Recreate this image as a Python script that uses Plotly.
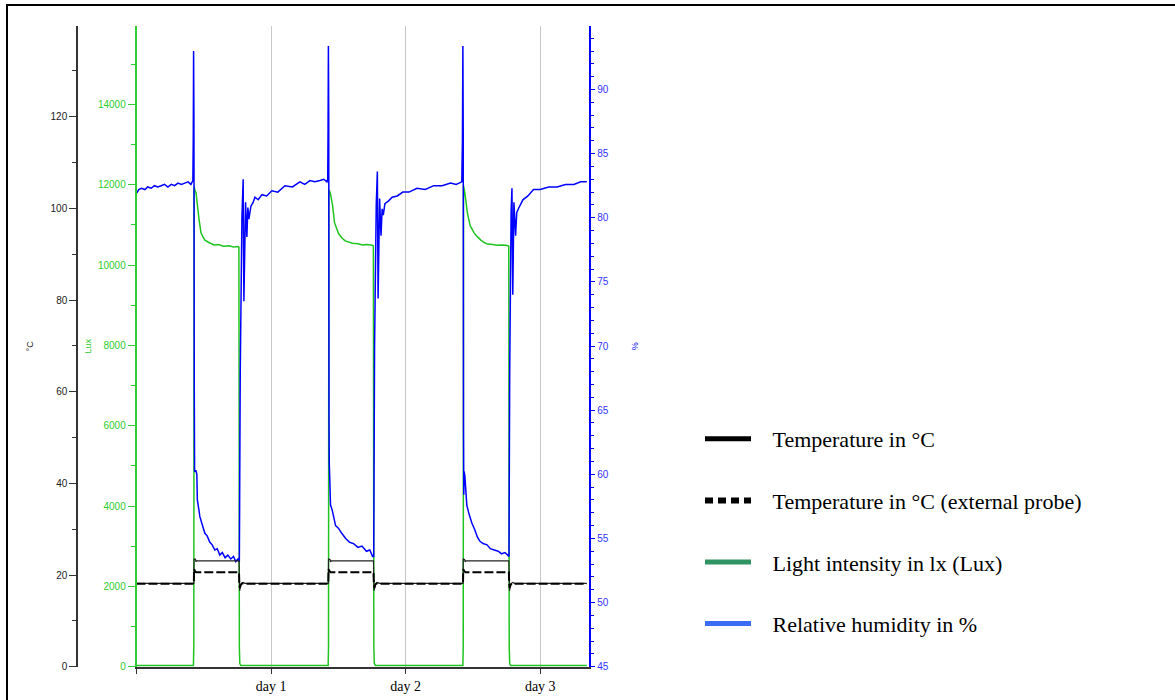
import plotly.graph_objects as go

# ---------------------------------------------------------------------------
# Logger readings over ~80 hours (time in hours since start of recording)
# ---------------------------------------------------------------------------
day_ticks = [0, 24, 48, 72]
day_labels = ["", "day 1", "day 2", "day 3"]

temp_ticks = [0, 20, 40, 60, 80, 100, 120]
lux_ticks = [0, 2000, 4000, 6000, 8000, 10000, 12000, 14000]
hum_ticks = [45, 50, 55, 60, 65, 70, 75, 80, 85, 90]

hum_t = [0.00, 0.15, 0.40, 0.90, 1.50, 2.00, 2.60, 3.20, 3.80, 4.40, 5.00, 5.60,
         6.20, 6.80, 7.40, 8.00, 8.60, 9.20, 9.70, 10.05, 10.12, 10.18, 10.24,
         10.30, 10.36, 10.60, 10.76, 10.85, 11.10, 11.30, 11.70, 12.19, 12.60,
         13.08, 13.50, 13.97, 14.40, 14.86, 15.30, 15.80, 16.29, 16.80, 17.30,
         17.70, 18.08, 18.34, 18.50, 18.80, 19.02, 19.15, 19.45, 19.68, 19.86,
         20.04, 20.40, 20.80, 21.11, 21.70, 22.36, 23.20, 24.15, 25.20, 26.47,
         27.80, 29.14, 30.00, 30.93, 31.80, 32.71, 33.40, 33.96, 34.10, 34.16,
         34.22, 34.28, 34.33, 34.38, 34.60, 34.90, 35.50, 36.00, 36.60, 37.30,
         38.00, 38.70, 39.50, 40.20, 41.00, 41.60, 42.10, 42.30, 42.45, 42.75,
         42.95, 43.08, 43.35, 43.60, 43.80, 44.00, 44.30, 44.90, 45.60, 46.50,
         47.50, 48.60, 50.00, 51.50, 53.00, 54.50, 56.00, 57.00, 58.00, 58.12,
         58.20, 58.26, 58.31, 58.36, 58.42, 58.55, 58.90, 59.30, 59.80, 60.30,
         60.80, 61.20, 61.80, 62.50, 63.10, 63.80, 64.50, 65.10, 65.70, 66.20,
         66.42, 66.55, 66.80, 66.95, 67.10, 67.30, 67.60, 67.80, 68.10, 68.90,
         69.80, 70.80, 72.00, 73.50, 75.00, 76.50, 78.00, 79.20, 80.30]
hum_v = [82.1, 82.0, 82.2, 82.3, 82.2, 82.4, 82.3, 82.5, 82.4, 82.5, 82.6, 82.4,
         82.6, 82.5, 82.7, 82.6, 82.7, 82.8, 82.6, 82.9, 86.0, 93.0, 88.0,
         67.2, 60.2, 60.3, 60.0, 58.0, 57.3, 56.7, 56.1, 55.4, 55.2,
         54.7, 54.5, 54.1, 54.2, 53.7, 53.9, 53.5, 53.7, 53.4, 53.6,
         53.2, 53.4, 53.2, 68.0, 80.0, 83.0, 73.5, 81.2, 78.5, 80.8,
         79.9, 80.9, 81.2, 81.6, 81.4, 81.8, 81.7, 82.1, 82.0, 82.5,
         82.4, 82.8, 82.6, 82.9, 82.8, 82.9, 83.0, 82.8, 83.0, 87.0,
         93.4, 88.0, 64.0, 60.8, 57.6, 57.2, 56.0, 55.8, 55.4, 55.0,
         54.7, 54.6, 54.3, 54.4, 54.0, 54.1, 53.6, 53.6, 70.0, 81.0,
         83.6, 73.7, 81.5, 78.6, 80.7, 80.2, 81.1, 81.3, 81.6, 81.7,
         82.0, 82.0, 82.3, 82.2, 82.5, 82.5, 82.7, 82.6, 82.8, 86.0,
         93.4, 87.0, 63.5, 58.4, 60.2, 59.9, 57.6, 56.9, 56.2, 55.7,
         55.1, 54.8, 54.6, 54.5, 54.2, 54.1, 54.0, 53.8, 53.9, 53.7,
         53.6, 68.0, 80.5, 82.3, 74.0, 81.2, 78.6, 80.4, 80.7, 81.4,
         81.7, 82.2, 82.2, 82.4, 82.4, 82.6, 82.6, 82.8, 82.8]

lux_t = [0.00, 10.15, 10.22, 10.28, 10.45, 10.62, 10.85, 11.16, 11.50, 11.85,
         12.20, 12.90, 13.80, 14.60, 15.50, 16.50, 17.30, 18.10, 18.26, 18.30,
         18.34, 18.42, 18.60, 34.18, 34.24, 34.30, 34.55, 34.95, 35.30, 36.00,
         36.60, 37.20, 38.50, 39.50, 40.30, 41.10, 42.00, 42.24, 42.28, 42.32,
         42.40, 42.60, 58.20, 58.26, 58.32, 58.55, 59.00, 59.50, 60.20, 60.80,
         61.40, 62.00, 62.60, 63.50, 64.30, 65.10, 65.90, 66.38, 66.42, 66.46,
         66.55, 66.70, 80.30]
lux_v = [30, 30, 500, 11950, 11850, 11800, 11500, 11130, 10800, 10700,
         10620, 10560, 10500, 10510, 10470, 10480, 10450, 10460, 10440, 6000,
         500, 80, 30, 30, 500, 11880, 11800, 11500, 11060, 10790,
         10680, 10600, 10540, 10530, 10500, 10510, 10490, 10480, 6000, 500,
         80, 30, 30, 500, 11970, 11800, 11300, 10980, 10800, 10700,
         10620, 10560, 10520, 10510, 10490, 10500, 10490, 10470, 6000, 500,
         80, 30, 30]

temp_t = [0.00, 10.22, 10.26, 10.50, 10.62, 10.75, 18.28, 18.34, 18.40, 18.55,
          18.75, 19.00, 19.30, 34.20, 34.24, 34.50, 34.60, 34.75, 42.26, 42.32,
          42.38, 42.52, 42.72, 43.00, 43.30, 58.22, 58.26, 58.50, 58.60, 58.75,
          66.40, 66.46, 66.52, 66.66, 66.86, 67.10, 67.40, 80.30]
temp_v = [18.2, 18.2, 23.5, 23.5, 22.9, 23.1, 23.1, 19.0, 16.6, 17.6,
          18.2, 18.4, 18.2, 18.2, 23.5, 23.4, 22.9, 23.1, 23.1, 19.0,
          16.6, 17.6, 18.2, 18.4, 18.2, 18.2, 23.5, 23.4, 22.9, 23.1,
          23.1, 19.0, 16.6, 17.6, 18.2, 18.4, 18.2, 18.2]

ext_t = [0.00, 10.22, 10.27, 10.45, 10.65, 18.28, 18.33, 18.42, 18.60, 18.85,
         19.20, 34.20, 34.25, 34.45, 34.65, 42.26, 42.31, 42.40, 42.58, 42.83,
         43.20, 58.22, 58.27, 58.47, 58.67, 66.40, 66.45, 66.54, 66.72, 66.97,
         67.30, 80.30]
ext_v = [18.1, 18.1, 21.3, 20.8, 20.6, 20.6, 18.5, 17.2, 17.9, 18.2,
         18.1, 18.1, 21.3, 20.8, 20.6, 20.6, 18.5, 17.2, 17.9, 18.2,
         18.1, 18.1, 21.3, 20.8, 20.6, 20.6, 18.5, 17.2, 17.9, 18.2,
         18.1, 18.1]

legend_names = ["Temperature in °C", "Temperature in °C (external probe)",
                "Light intensity in lx (Lux)", "Relative humidity in %"]

# ---------------------------------------------------------------------------
W, H = 1175, 700


def fx(p):
    return p / W


def fy(p):
    return 1 - p / H


C_TEMP = "#222222"
C_LUX = "#1fc41f"
C_LUX_AX = "#2ecc2e"
C_HUM = "#0000ff"
TICKFONT = "Liberation Sans, Arial, sans-serif"
SERIF = "Liberation Serif, Times New Roman, serif"
GAP = "\u00a0\u00a0\u00a0"  # space between legend swatch and its label

fig = go.Figure()

# Light intensity (primary y axis, drawn first so other lines sit above it)
fig.add_trace(go.Scatter(x=lux_t, y=lux_v, mode="lines", yaxis="y",
                         line=dict(color=C_LUX, width=1.5, simplify=False),
                         showlegend=False, hoverinfo="skip"))
# Relative humidity
fig.add_trace(go.Scatter(x=hum_t, y=hum_v, mode="lines", yaxis="y2",
                         line=dict(color=C_HUM, width=1.5, simplify=False),
                         showlegend=False, hoverinfo="skip"))
# Internal temperature
fig.add_trace(go.Scatter(x=temp_t, y=temp_v, mode="lines", yaxis="y3",
                         line=dict(color=C_TEMP, width=1.2, simplify=False),
                         showlegend=False, hoverinfo="skip"))
# External probe temperature
fig.add_trace(go.Scatter(x=ext_t, y=ext_v, mode="lines", yaxis="y3",
                         line=dict(color="black", width=2, dash="9px,3px",
                                   simplify=False),
                         showlegend=False, hoverinfo="skip"))

# Legend entries
legend_styles = [
    dict(color="black", width=5),
    dict(color="black", width=6, dash="8px,5px"),
    dict(color="#2e9462", width=5),
    dict(color="#3a6cf6", width=5),
]
for i, (name, st) in enumerate(zip(legend_names, legend_styles)):
    fig.add_trace(go.Scatter(x=[None], y=[None], mode="lines", name=GAP + name,
                             line=st, legendgroup=f"g{i}", yaxis="y3"))

y_dom = [fy(666.7), fy(26)]

fig.update_layout(
    width=W, height=H,
    margin=dict(l=0, r=0, t=0, b=0, autoexpand=False),
    paper_bgcolor="white", plot_bgcolor="white",
    showlegend=True,
    xaxis=dict(
        domain=[fx(136.5), fx(588.5)], range=[0, 80.6], automargin=False,
        tickmode="array", tickvals=day_ticks, ticktext=day_labels,
        ticks="outside", ticklen=6, tickcolor="#333", tickwidth=1,
        showline=True, linecolor="#333", linewidth=1.5,
        showgrid=True, gridcolor="#c8c8c8", gridwidth=1, zeroline=False,
        tickfont=dict(family=SERIF, size=14, color="black"),
    ),
    yaxis=dict(
        domain=y_dom, range=[0, 15950], anchor="x", side="left",
        automargin=False,
        tickmode="array", tickvals=lux_ticks, tickformat="d",
        ticks="outside", ticklen=7, tickcolor=C_LUX_AX,
        minor=dict(tick0=0, dtick=1000, ticks="outside", ticklen=4,
                   tickcolor=C_LUX_AX),
        showline=True, linecolor=C_LUX_AX, linewidth=1.5,
        showgrid=False, zeroline=False,
        tickfont=dict(family=TICKFONT, size=10, color=C_LUX_AX),
        title=dict(text="Lux", font=dict(family=TICKFONT, size=9, color=C_LUX_AX),
                   standoff=5),
    ),
    yaxis2=dict(
        overlaying="y", anchor="x", side="right", range=[45, 94.95],
        automargin=False,
        tickmode="array", tickvals=hum_ticks,
        ticks="outside", ticklen=5, tickcolor=C_HUM,
        minor=dict(tick0=45, dtick=1, ticks="outside", ticklen=4,
                   tickcolor=C_HUM),
        showline=True, linecolor=C_HUM, linewidth=1.5,
        showgrid=False, zeroline=False,
        tickfont=dict(family=TICKFONT, size=10, color="#3333ff"),
        title=dict(text="%", font=dict(family=TICKFONT, size=9, color=C_HUM),
                   standoff=24),
    ),
    yaxis3=dict(
        overlaying="y", anchor="free", position=fx(77), side="left",
        automargin=False,
        range=[0, 139.8], tickmode="array", tickvals=temp_ticks,
        ticks="outside", ticklen=7, tickcolor="#333",
        minor=dict(tick0=0, dtick=10, ticks="outside", ticklen=4,
                   tickcolor="#333"),
        showline=True, linecolor="#333", linewidth=1.5,
        showgrid=False, zeroline=False,
        tickfont=dict(family=TICKFONT, size=10, color="#222"),
        title=dict(text="°C", font=dict(family=TICKFONT, size=9, color="#222"),
                   standoff=14),
    ),
    legend=dict(
        x=fx(700), y=fy(418), xanchor="left", yanchor="top",
        font=dict(family=SERIF, size=22, color="black"),
        bgcolor="rgba(0,0,0,0)", tracegroupgap=30, itemwidth=46,
        traceorder="grouped",
    ),
    shapes=[
        dict(type="rect", xref="paper", yref="paper",
             x0=fx(7), x1=1.02, y0=-0.02, y1=fy(5),
             line=dict(color="black", width=2), fillcolor="rgba(0,0,0,0)",
             layer="above"),
    ],
)

fig.write_html("out.html")
